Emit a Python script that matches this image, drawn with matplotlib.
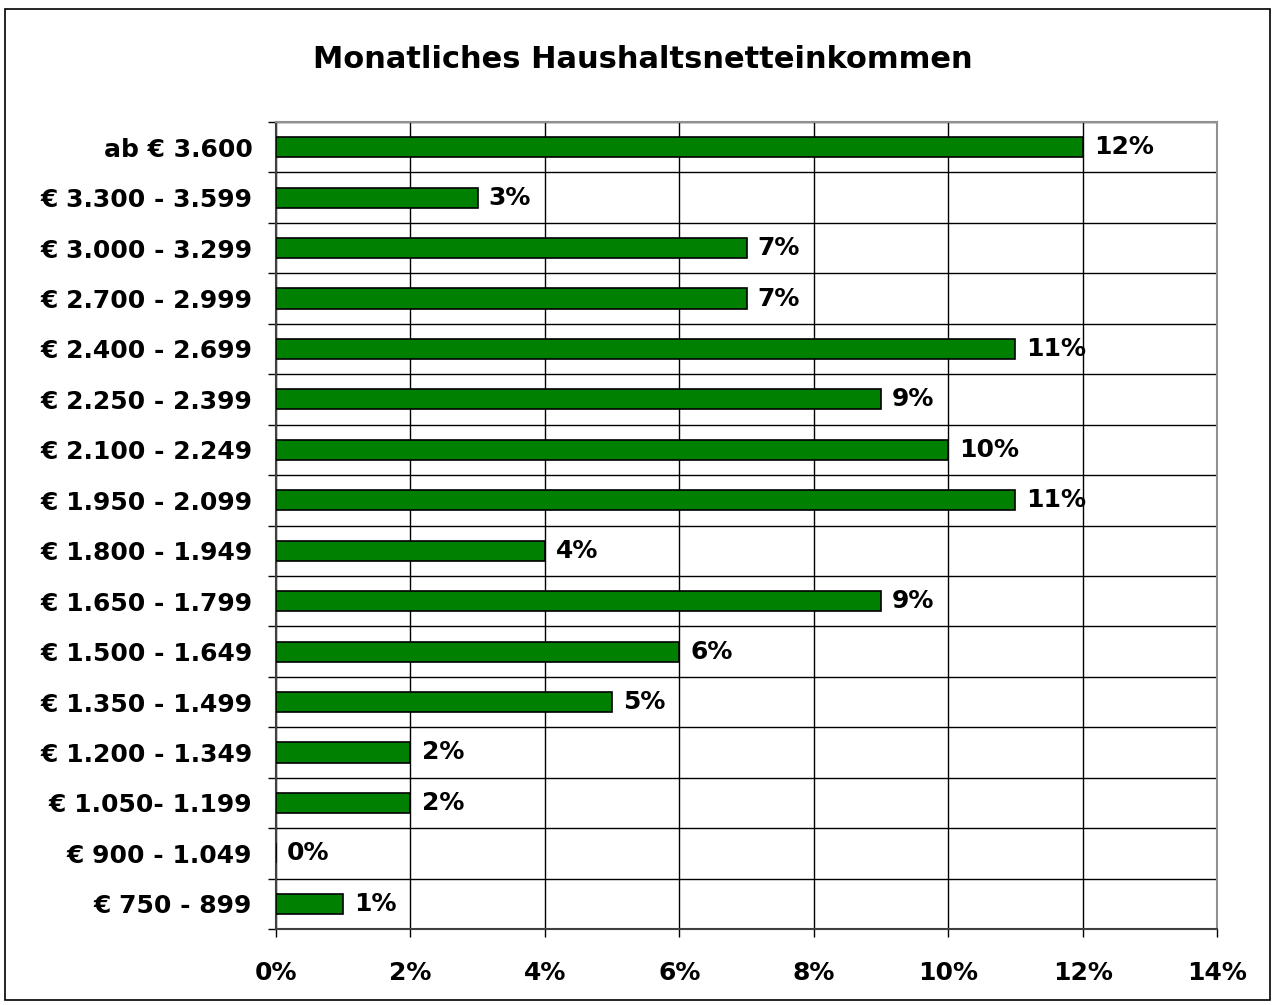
import numpy as np
import matplotlib
matplotlib.use("Agg")
from matplotlib import pyplot as plt
from matplotlib.patches import Rectangle
from matplotlib.ticker import FixedLocator, PercentFormatter

# income bands, bottom to top
categories = [
    "€ 750 - 899",
    "€ 900 - 1.049",
    "€ 1.050- 1.199",
    "€ 1.200 - 1.349",
    "€ 1.350 - 1.499",
    "€ 1.500 - 1.649",
    "€ 1.650 - 1.799",
    "€ 1.800 - 1.949",
    "€ 1.950 - 2.099",
    "€ 2.100 - 2.249",
    "€ 2.250 - 2.399",
    "€ 2.400 - 2.699",
    "€ 2.700 - 2.999",
    "€ 3.000 - 3.299",
    "€ 3.300 - 3.599",
    "ab € 3.600",
]
shares = [1, 0, 2, 2, 5, 6, 9, 4, 11, 10, 9, 11, 7, 7, 3, 12]
x_ticks = [0, 2, 4, 6, 8, 10, 12, 14]
title = "Monatliches Haushaltsnetteinkommen"

plt.rcParams["font.family"] = ["DejaVu Sans"]
plt.rcParams["font.weight"] = "bold"

W, H = 1276, 1005
fig = plt.figure(figsize=(W / 100, H / 100), dpi=100)

# outer chart border
fig.patches.append(
    Rectangle((5 / W, 5 / H), 1265 / W, 991 / H, transform=fig.transFigure,
              fill=False, edgecolor="black", linewidth=1.2)
)

ax = fig.add_axes([276 / W, (H - 929) / H, (1217 - 276) / W, 807 / H])

y = np.arange(len(categories))
bars = ax.barh(y, shares, height=0.4, color="#008000", edgecolor="black",
               linewidth=1.2, zorder=3)
ax.bar_label(bars, labels=[f"{v}%" for v in shares], padding=8,
             fontsize=18, fontweight="bold", zorder=4)

ax.set_xlim(0, 14)
ax.set_ylim(-0.5, len(categories) - 0.5)

# x axis
ax.set_xticks(x_ticks)
ax.xaxis.set_major_formatter(PercentFormatter(decimals=0))
ax.tick_params(axis="x", length=6, width=1, pad=17, labelsize=18, direction="out")

# y axis: labels at centres, ticks and grid at the boundaries
ax.set_yticks(y)
ax.set_yticklabels(categories)
ax.yaxis.set_minor_locator(FixedLocator(np.arange(-0.5, len(categories), 1)))
ax.tick_params(axis="y", which="major", length=0, pad=17, labelsize=18)
ax.tick_params(axis="y", which="minor", length=6, width=1, direction="out")

ax.grid(True, axis="x", which="major", color="black", linewidth=1, zorder=1)
ax.grid(True, axis="y", which="minor", color="black", linewidth=1, zorder=1)

for side in ["left", "bottom"]:
    ax.spines[side].set_color("#404040")
    ax.spines[side].set_linewidth(1.5)
for side in ["top", "right"]:
    ax.spines[side].set_color("#909090")
    ax.spines[side].set_linewidth(1.5)

fig.text(643 / W, 1 - 60 / H, title, ha="center", va="center",
         fontsize=22, fontweight="bold")

fig.savefig("out.png", dpi=100)
